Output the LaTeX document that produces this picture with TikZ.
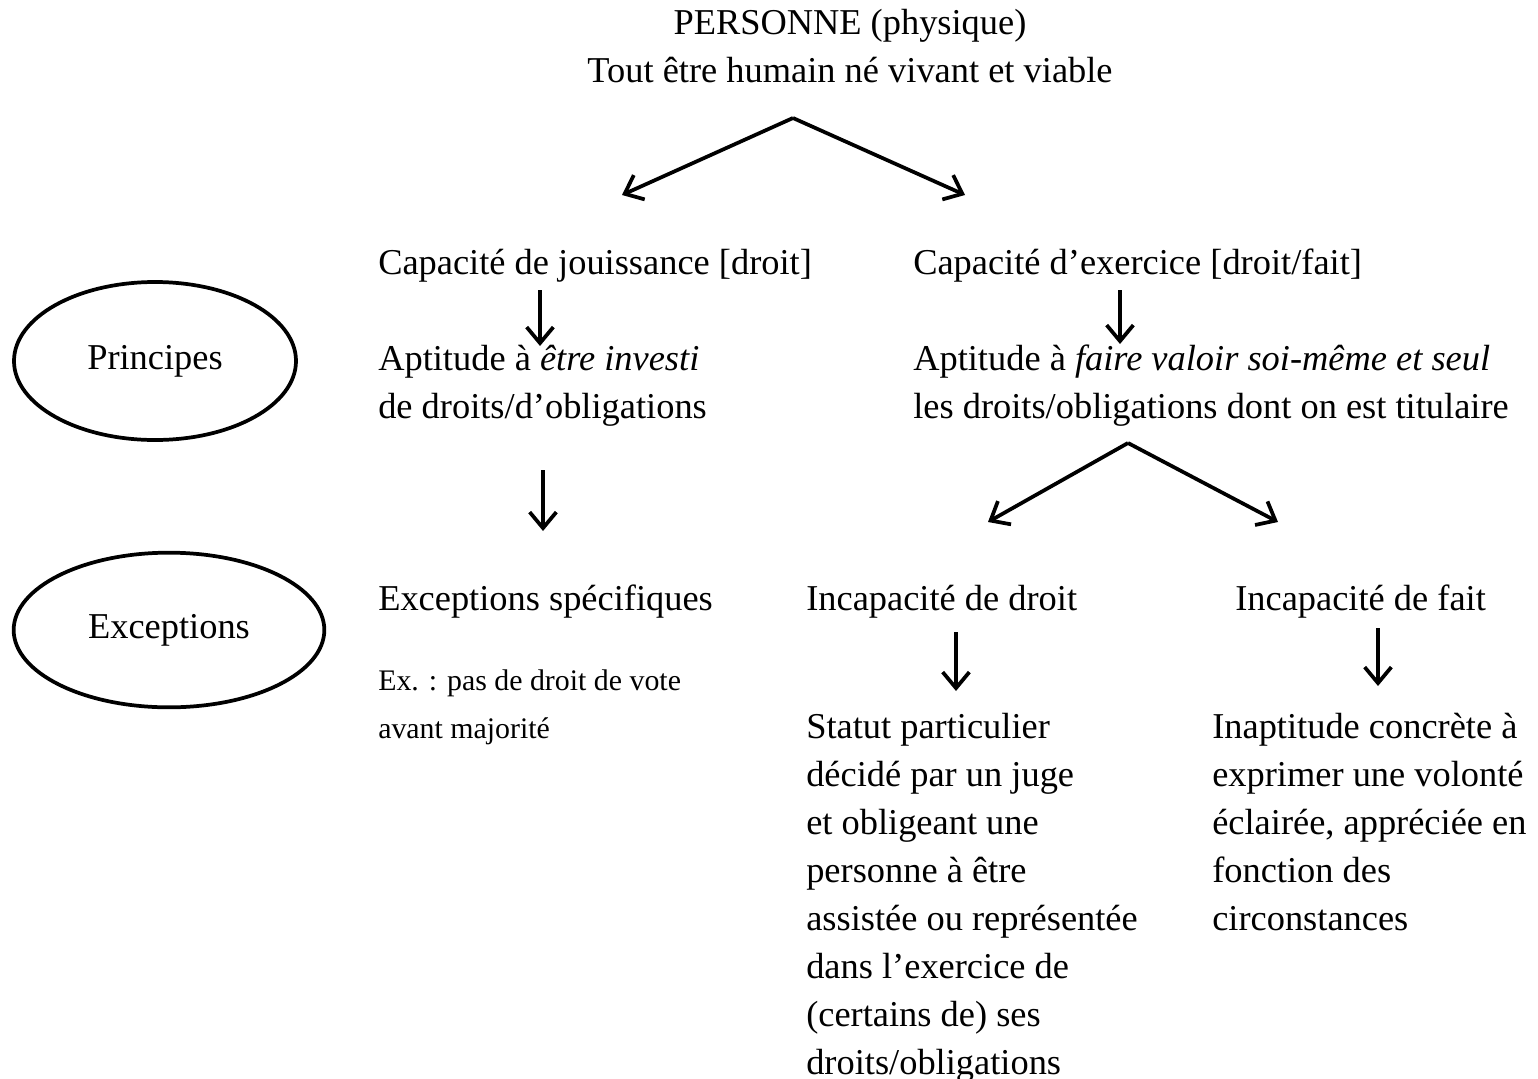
\documentclass[tikz,border=0pt]{standalone}
\usepackage{fontspec}
\setmainfont{Liberation Serif}
\usetikzlibrary{arrows.meta,positioning,shapes.geometric}

\begin{document}
\begin{tikzpicture}[
  x=0.75pt, y=-0.75pt,
  txt/.style={anchor=base west,inner sep=0pt,align=left,font=\fontsize{27.3}{36}\selectfont},
  small/.style={txt,font=\fontsize{22.4}{36}\selectfont},
  title/.style={anchor=base,inner sep=0pt,align=center,font=\fontsize{27.3}{36}\selectfont},
  oval/.style={draw,ellipse,line width=2.8pt,inner sep=0pt,font=\fontsize{27.3}{36}\selectfont},
  arr/.style={-{Straight Barb[length=12pt,width=20pt]},line width=2.8pt}
]
  \useasboundingbox (0,0) rectangle (1538,1078);

  % sommet (base = derniere ligne)
  \node[title] (pers) at (850,82) {PERSONNE (physique)\\Tout être humain né vivant et viable};

  % ovales a gauche
  \node[oval,minimum width=211.5pt,minimum height=118.5pt] (princ) at (155,361) {Principes};
  \node[oval,minimum width=233pt,minimum height=116pt] (exc) at (169,630) {Exceptions};

  % branche jouissance
  \node[txt] (jouis) at (378,274) {Capacité de jouissance [droit]};
  \node[txt] (aptj) at (378,418) {Aptitude à \textit{être investi}\\de droits/d’obligations};
  \node[txt] (excsp) at (378,610) {Exceptions spécifiques};
  \node[small] (exvote) at (378,738) {Ex. : pas de droit de vote\\avant majorité};

  % branche exercice
  \node[txt] (exer) at (913,274) {Capacité d’exercice [droit/fait]};
  \node[txt] (apte) at (913,418) {Aptitude à \textit{faire valoir soi-même et seul}\\les droits/obligations dont on est titulaire};
  \node[txt] (incd) at (806,610) {Incapacité de droit};
  \node[txt] (incf) at (1235,610) {Incapacité de fait};
  \node[txt] (statut) at (806,1074) {Statut particulier\\décidé par un juge\\et obligeant une\\personne à être\\assistée ou représentée\\dans l’exercice de\\(certains de) ses\\droits/obligations};
  \node[txt] (inapt) at (1212,930) {Inaptitude concrète à\\exprimer une volonté\\éclairée, appréciée en\\fonction des\\circonstances};

  % points des fleches
  \coordinate (top) at (793,118);
  \coordinate (topL) at (622,195);
  \coordinate (topR) at (965,195);
  \coordinate (j1) at (540,290);
  \coordinate (j2) at (540,346);
  \coordinate (e1) at (1120,290);
  \coordinate (e2) at (1120,344);
  \coordinate (j3) at (543,470);
  \coordinate (j4) at (543,531);
  \coordinate (split) at (1128,443);
  \coordinate (splitL) at (988,522);
  \coordinate (splitR) at (1278,522);
  \coordinate (d1) at (956,632);
  \coordinate (d2) at (956,691);
  \coordinate (f1) at (1378,628);
  \coordinate (f2) at (1378,686);

  \draw[arr] (top) -- (topL);
  \draw[arr] (top) -- (topR);
  \draw[arr] (j1) -- (j2);
  \draw[arr] (e1) -- (e2);
  \draw[arr] (j3) -- (j4);
  \draw[arr] (split) -- (splitL);
  \draw[arr] (split) -- (splitR);
  \draw[arr] (d1) -- (d2);
  \draw[arr] (f1) -- (f2);
\end{tikzpicture}
\end{document}
